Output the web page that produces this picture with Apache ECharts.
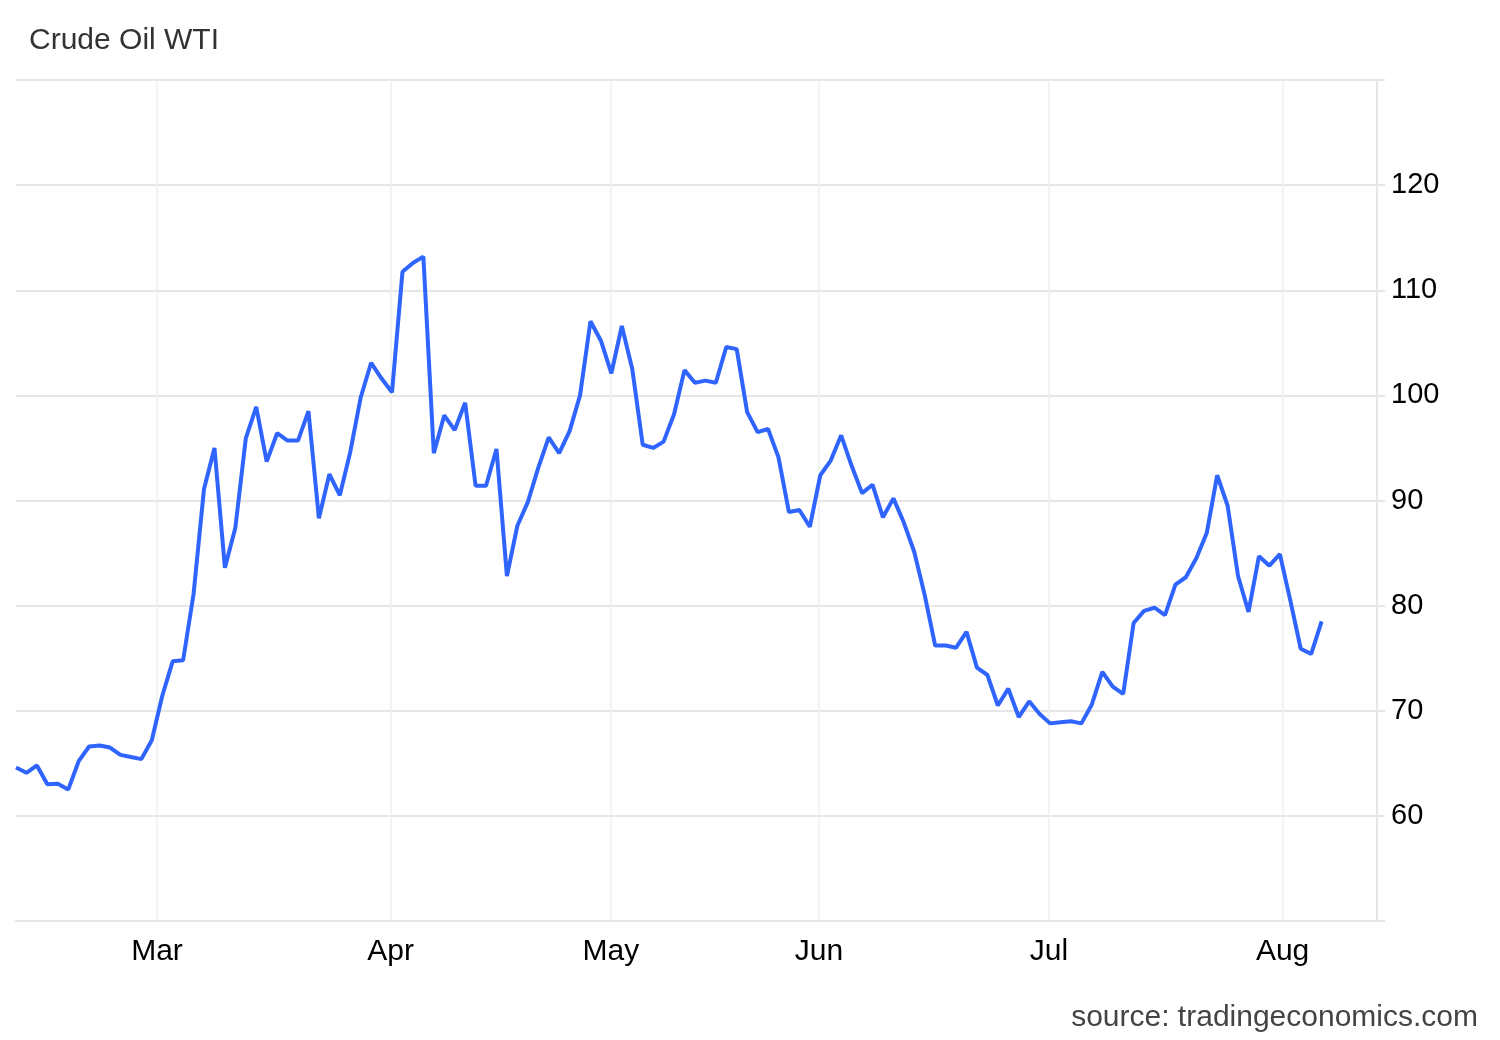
<!DOCTYPE html>
<html lang="en">
<head>
    <meta charset="UTF-8">
    <title>Crude Oil WTI</title>
    <script src="https://cdn.jsdelivr.net/npm/echarts@6/dist/echarts.min.js"></script>
    <style>
        html, body { margin: 0; padding: 0; background: #fff; }
        #chart { width: 1500px; height: 1040px; }
    </style>
</head>
<body>
<div id="chart"></div>
<script type="text/javascript">
    // daily closes, one per trading day
    var prices = [
        64.6, 64.1, 64.8, 63.0, 63.05, 62.5, 65.2, 66.6, 66.7, 66.5,
        65.8, 65.6, 65.4, 67.2, 71.4, 74.7, 74.8, 81.1, 91.1, 95.0,
        83.6, 87.4, 95.9, 98.9, 93.7, 96.4, 95.7, 95.7, 98.5, 88.3,
        92.5, 90.5, 94.6, 99.8, 103.1, 101.6, 100.3, 111.75, 112.6, 113.2,
        94.5, 98.1, 96.7, 99.3, 91.4, 91.4, 94.9, 82.8, 87.6, 89.85,
        93.1, 96.0, 94.5, 96.6, 100.0, 107.05, 105.2, 102.1, 106.6, 102.5,
        95.3, 95.0, 95.6, 98.2, 102.4, 101.2, 101.4, 101.2, 104.6, 104.4,
        98.4, 96.5, 96.8, 94.1, 88.9, 89.1, 87.5, 92.4, 93.8, 96.2,
        93.3, 90.7, 91.5, 88.4, 90.2, 87.9, 85.1, 81.0, 76.2, 76.2,
        76.0, 77.5, 74.1, 73.4, 70.5, 72.1, 69.4, 70.9, 69.7, 68.8,
        68.9, 69.0, 68.8, 70.6, 73.7, 72.3, 71.6, 78.35, 79.5, 79.8,
        79.1, 82.0, 82.7, 84.5, 86.9, 92.4, 89.5, 82.8, 79.4, 84.7,
        83.8, 84.9, 80.5, 75.9, 75.4, 78.5
    ];

    // month starts, as trading-day positions
    var monthNames = ['Mar', 'Apr', 'May', 'Jun', 'Jul', 'Aug'];
    var monthPos = [13.5, 35.87, 56.96, 76.87, 98.89, 121.26];

    var yLabels = [60, 70, 80, 90, 100, 110, 120];

    var font = "'Liberation Sans', Arial, sans-serif";

    var seriesData = prices.map(function (v, i) { return [i, v]; });

    var myChart = echarts.init(document.getElementById('chart'));

    var option = {
        animation: false,
        backgroundColor: '#ffffff',
        title: [{
            text: 'Crude Oil WTI',
            left: 24,
            top: 21,
            textStyle: { color: '#333333', fontSize: 30, fontWeight: 'normal', fontFamily: font }
        }, {
            text: 'source: tradingeconomics.com',
            right: 17,
            top: 998,
            textStyle: { color: '#444444', fontSize: 30, fontWeight: 'normal', fontFamily: font }
        }],
        grid: {
            left: 16,
            right: 123,
            top: 80,
            bottom: 119
        },
        xAxis: {
            type: 'value',
            min: 0,
            max: 130.3,
            axisLine: { show: true, lineStyle: { color: '#e6e6e6', width: 2 } },
            axisTick: { show: false, customValues: monthPos },
            axisLabel: {
                customValues: monthPos,
                margin: 16,
                color: '#000000',
                fontSize: 30,
                fontFamily: font,
                formatter: function (v) {
                    var best = 0;
                    for (var i = 1; i < monthPos.length; i++) {
                        if (Math.abs(monthPos[i] - v) < Math.abs(monthPos[best] - v)) best = i;
                    }
                    return monthNames[best];
                }
            },
            splitLine: { show: true, lineStyle: { color: '#edf0f4', width: 1.5 } }
        },
        yAxis: {
            type: 'value',
            position: 'right',
            min: 50,
            max: 130,
            interval: 10,
            axisLine: { show: true, onZero: false, lineStyle: { color: '#e6e6e6', width: 2 } },
            axisTick: { show: true, length: 8, lineStyle: { color: '#e6e6e6', width: 2 } },
            axisLabel: {
                customValues: yLabels,
                margin: 14,
                color: '#000000',
                fontSize: 29,
                fontFamily: font
            },
            splitLine: { show: true, lineStyle: { color: '#e6e6e6', width: 2 } }
        },
        series: [{
            type: 'line',
            data: seriesData,
            showSymbol: false,
            lineStyle: { color: '#2f64ff', width: 4 },
            itemStyle: { color: '#2f64ff' }
        }]
    };
    myChart.setOption(option);
</script>
</body>
</html>
